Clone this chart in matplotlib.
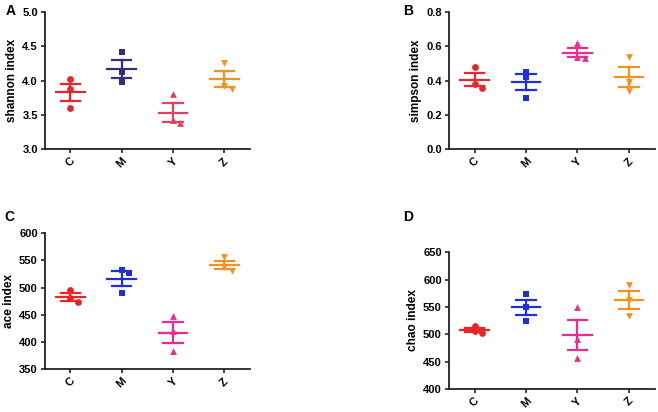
import numpy as np
import matplotlib
matplotlib.use('Agg')
import matplotlib.pyplot as plt

plt.rcParams['font.family'] = ['Liberation Sans', 'DejaVu Sans']

# grupper og verdier lest av figuren
groups = ['C', 'M', 'Y', 'Z']

shannon = [[4.02, 3.87, 3.60], [4.42, 4.12, 3.98], [3.80, 3.42, 3.38], [4.25, 3.92, 3.88]]
simpson = [[0.48, 0.38, 0.355], [0.45, 0.42, 0.30], [0.62, 0.54, 0.53], [0.535, 0.39, 0.34]]
ace = [[495, 480, 473], [533, 527, 490], [448, 420, 383], [557, 538, 531]]
chao = [[515, 505, 502], [573, 549, 525], [549, 491, 456], [590, 563, 533]]

markers = ['o', 's', '^', 'v']
colors_a = ['#e8262a', '#3b2a80', '#e2405e', '#f5921e']
colors_b = ['#e8262a', '#1f2fe0', '#ee2a8e', '#f5921e']

panels = [
    ('A', shannon, 'shannon index', (3.0, 5.0), [3.0, 3.5, 4.0, 4.5, 5.0], '%.1f', colors_a,
     [0.068, 0.638, 0.312, 0.333], (0.008, 0.99)),
    ('B', simpson, 'simpson index', (0.0, 0.8), [0.0, 0.2, 0.4, 0.6, 0.8], '%.1f', colors_b,
     [0.682, 0.638, 0.313, 0.333], (0.612, 0.99)),
    ('C', ace, 'ace index', (350, 600), [350, 400, 450, 500, 550, 600], '%d', colors_b,
     [0.068, 0.104, 0.312, 0.330], (0.006, 0.49)),
    ('D', chao, 'chao index', (400, 650), [400, 450, 500, 550, 600, 650], '%d', colors_b,
     [0.682, 0.056, 0.313, 0.332], (0.612, 0.49)),
]

fig = plt.figure(figsize=(6.58, 4.12), dpi=100)

for letter, data, ylabel, ylim, yticks, fmt, colors, rect, lpos in panels:
    ax = fig.add_axes(rect)
    span = ylim[1] - ylim[0]
    for i, vals in enumerate(data):
        x0 = i + 1
        vals = np.array(vals, dtype=float)
        m = vals.mean()
        sem = vals.std(ddof=1) / np.sqrt(len(vals))
        c = colors[i]
        # enkel sverm: flytt punkter som ligger nesten oppå hverandre
        xs = []
        for j, v in enumerate(vals):
            dx = 0.0
            for k in range(j):
                if abs(v - vals[k]) < 0.035 * span and abs(xs[k] - x0 - dx) < 0.1:
                    dx += 0.14
            xs.append(x0 + dx)
        ax.scatter(xs, vals, marker=markers[i], s=24, color=c, zorder=3, linewidths=0)
        ax.plot([x0 - 0.28, x0 + 0.28], [m, m], color=c, lw=1.6, zorder=4)
        ax.plot([x0, x0], [m - sem, m + sem], color=c, lw=1.6, zorder=4)
        for y in (m - sem, m + sem):
            ax.plot([x0 - 0.19, x0 + 0.19], [y, y], color=c, lw=1.6, zorder=4)

    ax.set_xlim(0.5, 4.5)
    ax.set_ylim(*ylim)
    ax.set_yticks(yticks)
    ax.set_yticklabels([fmt % t for t in yticks], fontsize=8, fontweight='bold')
    ax.set_xticks(range(1, 5))
    ax.set_xticklabels(groups, rotation=45, fontsize=8, fontweight='bold', ha='center')
    ax.set_ylabel(ylabel, fontsize=8.5, fontweight='bold', labelpad=3)
    for s in ('top', 'right'):
        ax.spines[s].set_visible(False)
    for s in ('left', 'bottom'):
        ax.spines[s].set_linewidth(1.3)
        ax.spines[s].set_color('#222222')
    ax.tick_params(width=1.2, length=3, color='#222222', pad=2)
    fig.text(lpos[0], lpos[1], letter, fontsize=10, fontweight='bold', va='top')

fig.savefig('out.png', dpi=100)
